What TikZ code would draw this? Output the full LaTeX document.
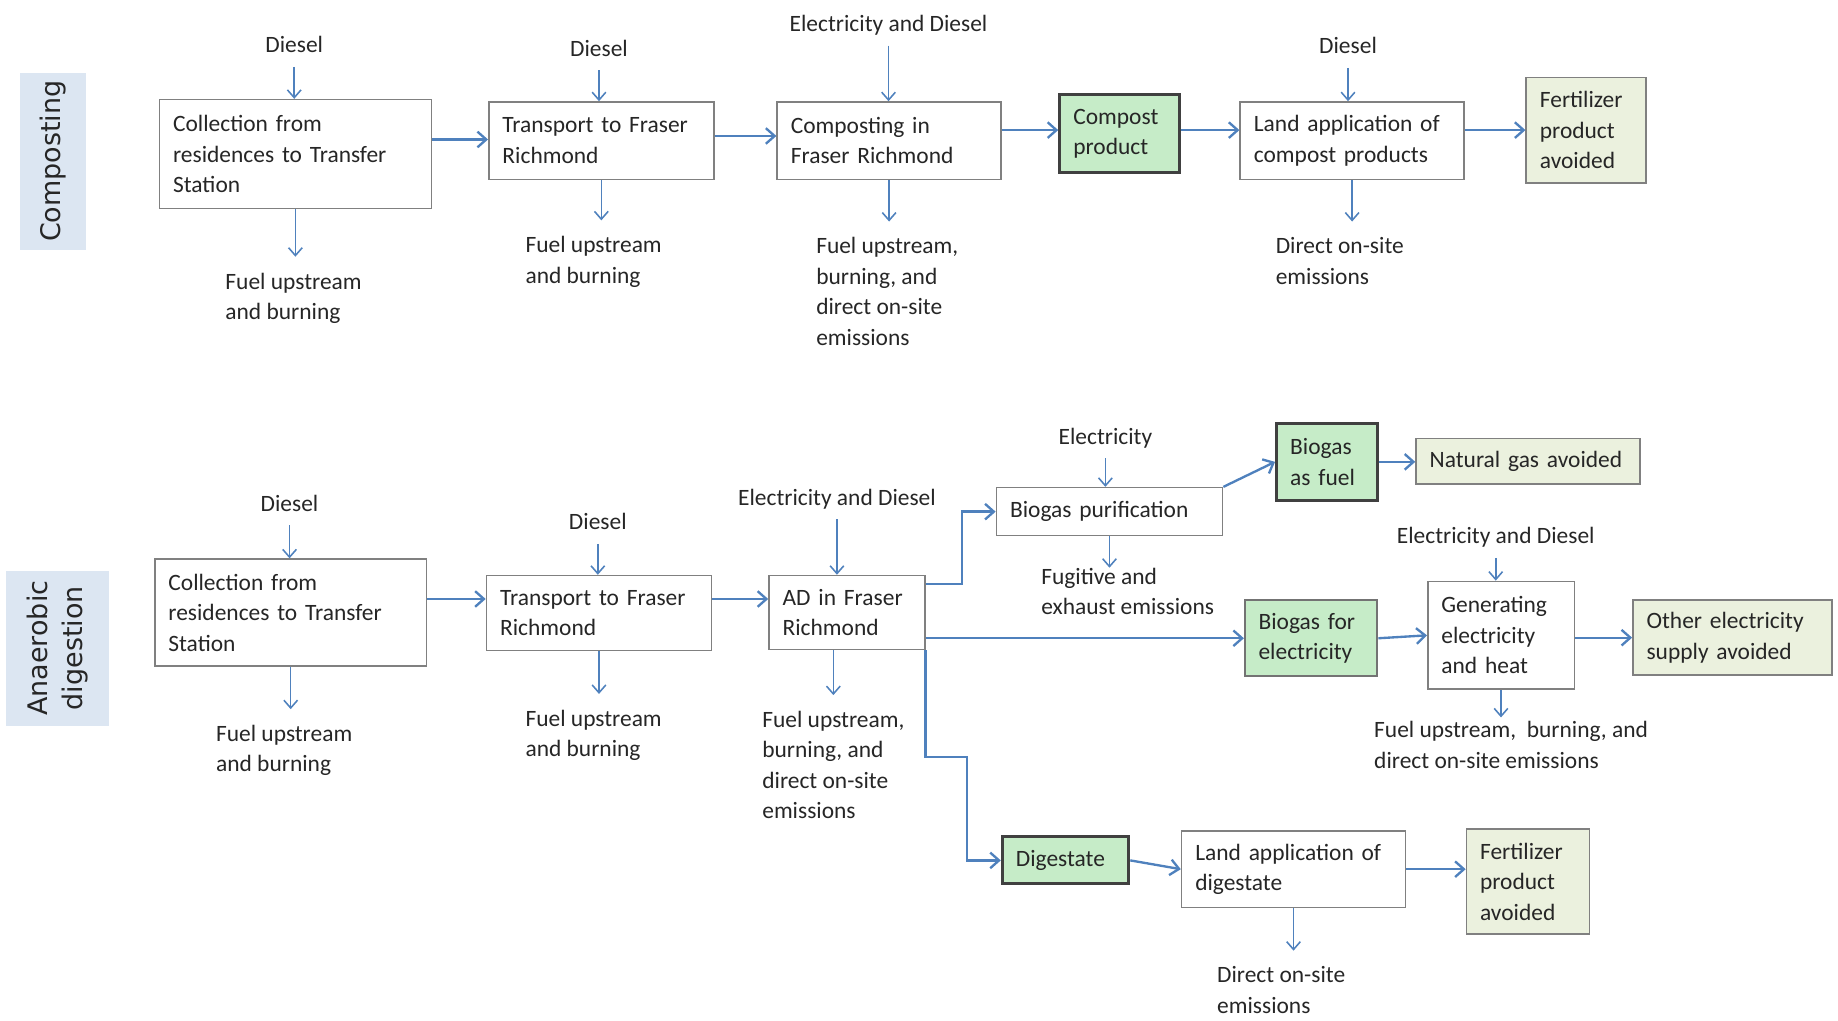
\documentclass[tikz,border=0pt]{standalone}
\usepackage{fontspec}
\setmainfont{Carlito}
\newfontfamily\labelfont{DejaVu Sans}
\usetikzlibrary{arrows.meta}

\definecolor{flowblue}{RGB}{79,129,189}
\definecolor{prodgreen}{RGB}{198,236,200}
\definecolor{avoidolive}{RGB}{235,241,222}
\definecolor{tagblue}{RGB}{220,230,242}
\newcommand{\boxfont}{\fontsize{12}{15.6}\selectfont}
\newcommand{\tagfont}{\labelfont\fontsize{13.8}{18}\selectfont}

\begin{document}
\begin{tikzpicture}[x=0.6pt, y=-0.6pt, font=\boxfont, text=black!85,
  dims/.style n args={3}{minimum width=#1, minimum height=#2, text width=#3},
  proc/.style={draw=black!50, fill=white, line width=0.8pt, align=left,
    inner xsep=7pt, inner ysep=0pt},
  prod/.style={proc, draw=black!75, line width=1.5pt, fill=prodgreen},
  avoid/.style={proc, fill=avoidolive},
  tag/.style={fill=tagblue, rotate=90, font=\tagfont, align=center, inner sep=0pt},
  intxt/.style={text height=9pt, text depth=3pt, inner ysep=2pt},
  outtxt/.style={anchor=north west, align=left, inner xsep=0pt, inner ysep=8pt},
  io/.style={draw=flowblue, line width=0.8pt, -{Straight Barb[length=4pt,width=7pt]}},
  feed/.style={io, shorten <=2pt},
  flow/.style={draw=flowblue, line width=1.2pt, -{Straight Barb[length=4.5pt,width=8pt]}}]
  \useasboundingbox (0,0) rectangle (1568,871);

  % composting
  \node[tag, minimum width=90.6pt, minimum height=33.6pt] (ctag) at (45,137.5) {Composting};
  \node[proc, dims={139.2pt}{55.8pt}{125.2pt}] (cbox1) at (252,131.5) {Collection from\\residences to Transfer\\Station};
  \node[proc, dims={115.2pt}{39.6pt}{101.2pt}] (cbox2) at (513,120) {Transport to Fraser\\Richmond};
  \node[proc, dims={114.6pt}{39.6pt}{100.6pt}] (cbox3) at (758.5,120) {Composting in\\Fraser Richmond};
  \node[prod, dims={61.2pt}{39.6pt}{47.2pt}] (ccomp) at (955,114) {Compost\\product};
  \node[proc, dims={114.6pt}{39.6pt}{100.6pt}] (cland) at (1153.5,120) {Land application of\\compost products};
  \node[avoid, dims={61.2pt}{54pt}{47.2pt}] (cfert) at (1353,111) {Fertilizer\\product\\avoided};

  \node[intxt] (cin1) at (251,40) {Diesel};
  \node[intxt] (cin2) at (511,43) {Diesel};
  \node[intxt] (cin3) at (758,22) {Electricity and Diesel};
  \node[intxt] (cin4) at (1150,41) {Diesel};

  \node[outtxt] (cout1) at (192,219) {Fuel upstream\\and burning};
  \node[outtxt] (cout2) at (448,188) {Fuel upstream\\and burning};
  \node[outtxt] (cout3) at (696,189) {Fuel upstream,\\burning, and\\direct on-site\\emissions};
  \node[outtxt] (cout4) at (1088,189) {Direct on-site\\emissions};

  \draw[feed] (cin1.south) -- (cin1.south |- cbox1.north);
  \draw[feed] (cin2.south) -- (cin2.south |- cbox2.north);
  \draw[feed] (cin3.south) -- (cin3.south |- cbox3.north);
  \draw[feed] (cin4.south) -- (cin4.south |- cland.north);
  \draw[io] (cbox1.south) -- (cbox1.south |- cout1.north);
  \draw[io] (cbox2.south) -- (cbox2.south |- cout2.north);
  \draw[io] (cbox3.south) -- (cbox3.south |- cout3.north);
  \draw[io] (cland.south) -- (cland.south |- cout4.north);

  \draw[flow] (cbox1.east |- 0,119) -- (cbox2.west |- 0,119);
  \draw[flow] (cbox2.east |- 0,116) -- (cbox3.west |- 0,116);
  \draw[flow] (cbox3.east |- 0,111) -- (ccomp.west |- 0,111);
  \draw[flow] (ccomp.east |- 0,111) -- (cland.west |- 0,111);
  \draw[flow] (cland.east |- 0,111) -- (cfert.west |- 0,111);

  % anaerobic digestion
  \node[tag, minimum width=79.2pt, minimum height=52.8pt] (atag) at (49,553) {Anaerobic\\digestion};
  \node[proc, dims={139.2pt}{54.6pt}{125.2pt}] (abox1) at (248,522.5) {Collection from\\residences to Transfer\\Station};
  \node[proc, dims={115.2pt}{38.4pt}{101.2pt}] (abox2) at (511,523) {Transport to Fraser\\Richmond};
  \node[proc, dims={79.8pt}{37.8pt}{65.8pt}] (abox3) at (722.5,522.5) {AD in Fraser\\Richmond};
  \node[proc, dims={115.8pt}{24.6pt}{101.8pt}] (apur) at (946.5,436.5) {Biogas purification};
  \node[prod, dims={51.6pt}{39.6pt}{37.6pt}] (afuel) at (1132,394) {Biogas\\as fuel};
  \node[avoid, dims={114.6pt}{23.4pt}{100.6pt}] (angas) at (1303.5,393.5) {Natural gas avoided};
  \node[prod, draw=black!55, line width=1pt, dims={67.8pt}{39pt}{53.8pt}] (aelec) at (1118.5,544.5) {Biogas for\\electricity};
  \node[proc, dims={75pt}{55.2pt}{61pt}] (agen) at (1280.5,542) {Generating\\electricity\\and heat};
  \node[avoid, dims={102pt}{38.4pt}{88pt}] (aother) at (1478,544) {Other electricity\\supply avoided};
  \node[prod, dims={64.8pt}{24pt}{50.8pt}] (adig) at (909,734) {Digestate};
  \node[proc, dims={114.6pt}{39pt}{100.6pt}] (aland) at (1103.5,741.5) {Land application of\\digestate};
  \node[avoid, dims={63pt}{54pt}{49pt}] (afert) at (1303.5,752) {Fertilizer\\product\\avoided};

  \node[intxt] (ain1) at (247,431) {Diesel};
  \node[intxt] (ain2) at (510,447) {Diesel};
  \node[intxt] (ain3) at (714,426) {Electricity and Diesel};
  \node[intxt] (ain4) at (943,374) {Electricity};
  \node[intxt] (ain5) at (1276,459) {Electricity and Diesel};

  \node[outtxt] (aout1) at (184,605) {Fuel upstream\\and burning};
  \node[outtxt] (aout2) at (448,592) {Fuel upstream\\and burning};
  \node[outtxt] (aout3) at (650,593) {Fuel upstream,\\burning, and\\direct on-site\\emissions};
  \node[outtxt] (aout4) at (888,471) {Fugitive and\\exhaust emissions};
  \node[outtxt] (aout5) at (1172,602) {Fuel upstream,\ \ burning, and\\direct on-site emissions};
  \node[outtxt] (aout6) at (1038,811) {Direct on-site\\emissions};

  \draw[feed] (ain1.south) -- (ain1.south |- abox1.north);
  \draw[feed] (ain2.south) -- (ain2.south |- abox2.north);
  \draw[feed] (ain3.south) -- (ain3.south |- abox3.north);
  \draw[feed] (ain4.south) -- (ain4.south |- apur.north);
  \draw[feed] (ain5.south) -- (ain5.south |- agen.north);
  \draw[io] (abox1.south) -- (abox1.south |- aout1.north);
  \draw[io] (abox2.south) -- (abox2.south |- aout2.north);
  \draw[io] (abox3.south -| aout3.north) -- (aout3.north);
  \draw[io, shorten >=-8pt] (apur.south) -- (apur.south |- aout4.north);
  \draw[io, shorten >=-6pt] (agen.south) -- (agen.south |- aout5.north);
  \draw[io] (aland.south) -- (aland.south |- aout6.north);

  \draw[flow] (abox1.east |- 0,511) -- (abox2.west |- 0,511);
  \draw[flow] (abox2.east |- 0,511) -- (abox3.west |- 0,511);
  \draw[flow] (abox3.east |- 0,498) -- ++(31,0) |- (apur.west);
  \draw[flow] (apur.north east) -- (afuel.west);
  \draw[flow] (afuel.east) -- (afuel.east -| angas.west);
  \draw[flow] (abox3.east |- aelec.west) -- (aelec.west);
  \draw[flow] (aelec.east) -- (agen.west);
  \draw[flow] (agen.east |- aother.west) -- (aother.west);
  \draw[flow] (abox3.south east) -- ++(0,91) -- ++(35,0) |- (adig.west);
  \draw[flow] (adig.east) -- (aland.west);
  \draw[flow] (aland.east) -- (aland.east -| afert.west);
\end{tikzpicture}
\end{document}
